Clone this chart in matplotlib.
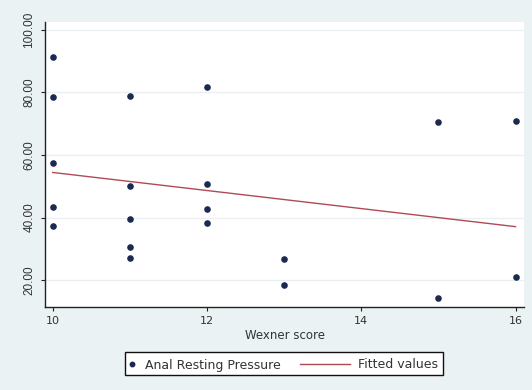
import numpy as np
import matplotlib
matplotlib.use("Agg")
import matplotlib.pyplot as plt
from matplotlib.patches import Rectangle
from matplotlib.lines import Line2D

# Data
wexner = [10, 10, 10, 10, 10,
          11, 11, 11, 11, 11,
          12, 12, 12, 12,
          13, 13,
          15, 15,
          16, 16]
pressure = [91.5, 78.5, 57.3, 43.3, 37.4,
            78.8, 50.2, 39.6, 30.7, 27.1,
            81.7, 50.6, 42.6, 38.3,
            26.7, 18.5,
            70.7, 14.3,
            71.0, 21.1]
xticks = [10, 12, 14, 16]
yticks = [20, 40, 60, 80, 100]
series_labels = ['Anal Resting Pressure', 'Fitted values']

plt.rcParams['font.family'] = ['Liberation Sans', 'DejaVu Sans']
hfont = ['DejaVu Sans']

bg = '#eaf2f3'
dot_color = '#1a2a4f'
fit_color = '#b04a55'
txt_color = '#333333'
W, H = 532, 390
fig = plt.figure(figsize=(W / 100, H / 100), dpi=100, facecolor=bg)
ax = fig.add_axes([0.0846, 0.213, 0.9004, 0.731])
ax.set_facecolor('white')

x = np.array(wexner, dtype=float)
y = np.array(pressure, dtype=float)
slope, icpt = np.polyfit(x, y, 1)
xs = np.array([10, 16], dtype=float)

ax.scatter(x, y, s=14, color=dot_color, zorder=3)
ax.plot(xs, icpt + slope * xs, color=fit_color, lw=1.0, zorder=2)

ax.set_xlim(9.9, 16.11)
ax.set_ylim(11.4, 102.6)
ax.set_xticks(xticks)
ax.set_xticklabels([str(t) for t in xticks], family=hfont, fontsize=8)
ax.set_yticks(yticks)
ax.set_yticklabels([f"{t:.2f}" for t in yticks], rotation=90, va='center', fontsize=8.5)
ax.grid(axis='y', color='#eaeff1', lw=0.9)
ax.set_axisbelow(True)

for s in ['top', 'right']:
    ax.spines[s].set_visible(False)
for s in ['left', 'bottom']:
    ax.spines[s].set_color('#222222')
    ax.spines[s].set_linewidth(1.0)
ax.tick_params(axis='both', colors='#222222', labelcolor=txt_color, length=3, width=0.8)
ax.tick_params(axis='y', pad=4)

ax.set_xlabel('Wexner score', fontsize=8.5, family=hfont, color=txt_color, labelpad=2)

# Legend box drawn manually (Stata-style layout)
def fx(px):
    return px / W

def fy(py):
    return 1 - py / H

fig.add_artist(Rectangle((fx(125), fy(375)), fx(443) - fx(125), fy(352) - fy(375),
                         transform=fig.transFigure, facecolor='white',
                         edgecolor='#111111', lw=1.0))
ymid = fy(363.5)
fig.add_artist(Line2D([fx(132)], [ymid], marker='o', markersize=3.2, color=dot_color,
                      linestyle='none', transform=fig.transFigure))
fig.text(fx(145), ymid, series_labels[0], fontsize=9, family=hfont, color=txt_color,
         va='center_baseline', ha='left')
fig.add_artist(Line2D([fx(300), fx(350)], [ymid, ymid], color=fit_color, lw=1.0,
                      transform=fig.transFigure))
fig.text(fx(358), ymid, series_labels[1], fontsize=9, family=hfont, color=txt_color,
         va='center_baseline', ha='left')

fig.savefig('out.png', dpi=100, facecolor=bg)
